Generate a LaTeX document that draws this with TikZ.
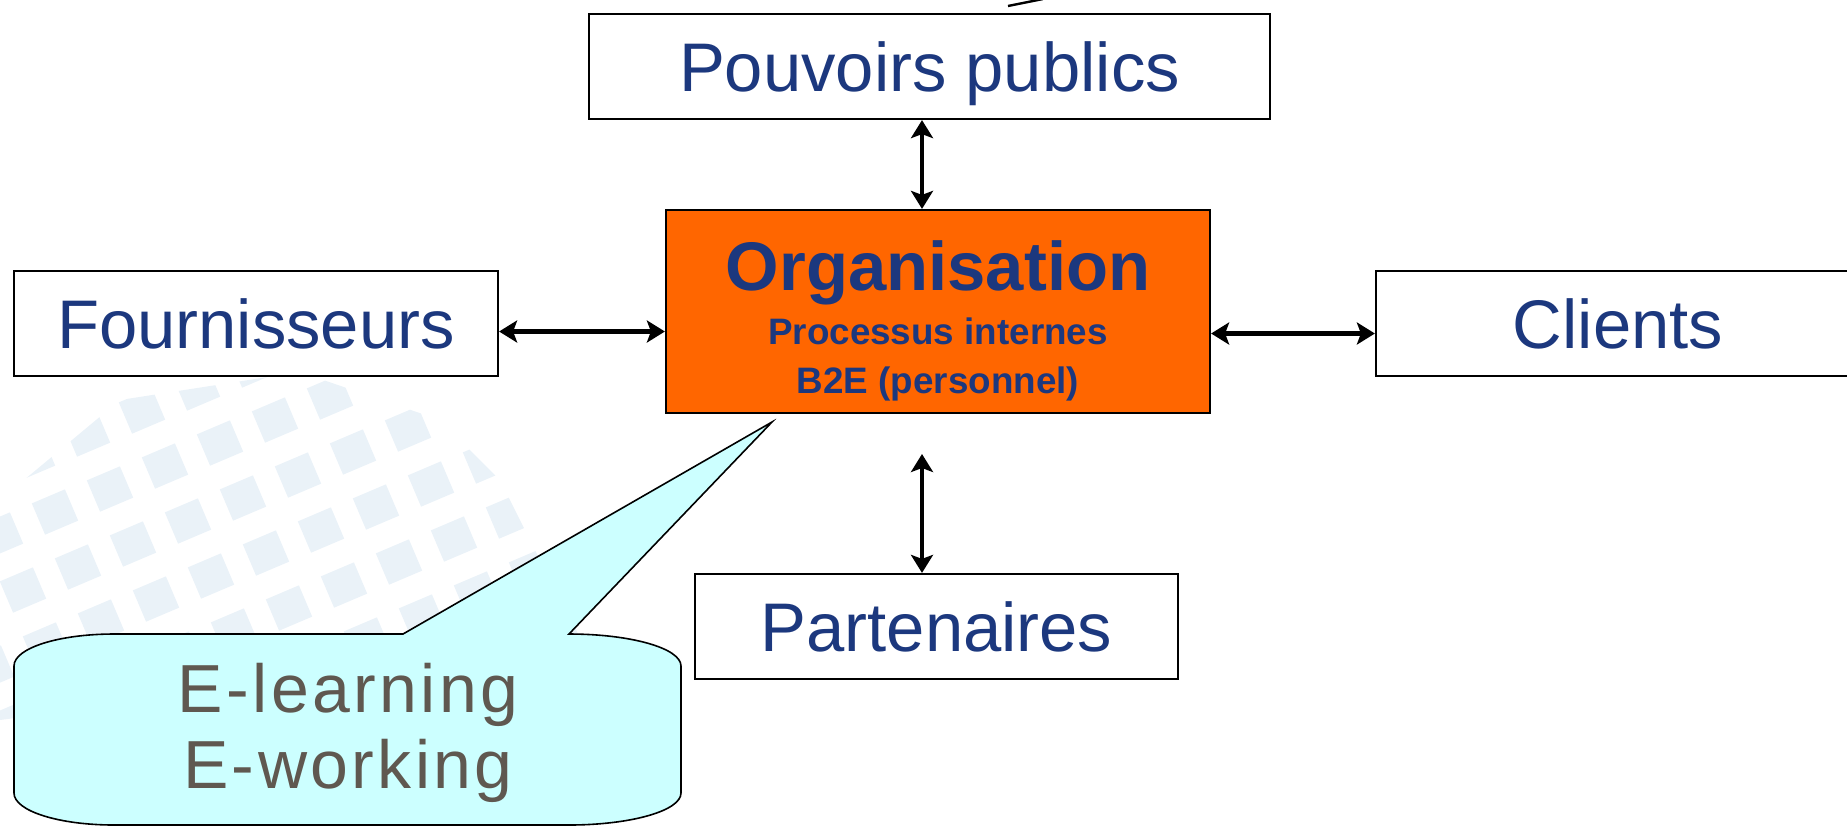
\documentclass[tikz,border=0pt]{standalone}
\usepackage{fontspec}
\setmainfont{Liberation Sans}
\usepackage{xcolor}
\usetikzlibrary{arrows.meta}

\definecolor{txtblue}{RGB}{28,56,126}
\definecolor{orgorange}{RGB}{255,102,0}
\definecolor{bubble}{RGB}{204,255,255}
\definecolor{bubbletxt}{RGB}{95,88,80}
\definecolor{tile}{RGB}{234,242,248}

\tikzset{
  box/.style={draw=black, line width=1.1pt, fill=white, text=txtblue, inner sep=0pt,
    minimum height=52.5pt, text height=24.6pt, text depth=0pt,
    font=\fontsize{34.4}{40}\selectfont},
  link/.style={line width=2.2pt, {Stealth[length=9pt,width=11pt,inset=2pt]}-{Stealth[length=9pt,width=11pt,inset=2pt]}},
  orgtxt/.style={anchor=base, text=txtblue, inner sep=0pt, font=\bfseries\fontsize{18.4}{22}\selectfont},
  calltxt/.style={anchor=base, text=bubbletxt, inner sep=0pt,
    font=\addfontfeatures{LetterSpace=5}\fontsize{34}{40}\selectfont}
}

\begin{document}
\begin{tikzpicture}[x=0.5pt,y=-0.5pt]
\useasboundingbox (0,0) rectangle (1847,827);

% faint tiles in the background
\begin{scope}
\clip (0,500) -- (120,400) -- (300,372) -- (440,420) -- (500,480) -- (560,600) -- (600,640) -- (0,720) -- cycle;
\foreach \i in {-8,...,6}
  \foreach \j in {-5,...,4}
    \fill[tile, shift={({321+55*\i-23*\j},{530-23*\i-55*\j})}, rotate=23] (-18,-17) rectangle (18,17);
\end{scope}

% small stroke cut by the top edge
\draw[line width=1.2pt] (1008,6) -- (1043,-1);

\node[box, minimum width=340.5pt] (pp) at (929.5,66.5) {Pouvoirs publics};
\node[draw=black, line width=1.1pt, fill=orgorange, minimum width=272pt, minimum height=101.5pt] (org) at (938,311.5) {};
\node[orgtxt, font=\bfseries\fontsize{34.4}{40}\selectfont] (orgtitle) at (938,290) {Organisation};
\node[orgtxt] (orgproc) at (938,344) {Processus internes};
\node[orgtxt] (orgb2e) at (938,393) {B2E (personnel)};
\node[box, minimum width=242pt] (four) at (256,323.5) {Fournisseurs};
\node[box, minimum width=242pt] (cli) at (1618,323.5) {Clients};
\node[box, minimum width=241.5pt] (part) at (936.5,626.5) {Partenaires};

\coordinate (gap) at (922,454);
\draw[link] (pp.south -| gap) -- (org.north -| gap);
\draw[link] (gap) -- (gap |- part.north);
\draw[link] ([yshift=-4pt]four.east) -- ([yshift=-4pt]four.east -| org.west);
\draw[link] ([yshift=-11pt]org.east) -- ([yshift=-11pt]org.east -| cli.west);

% callout
\draw[fill=bubble, line width=0.8pt] (114,634) -- (403,634) -- (772,422) -- (569,634)
  .. controls (630,634) and (681,648) .. (681,666) -- (681,793)
  .. controls (681,811) and (630,825) .. (569,825) -- (114,825)
  .. controls (59,825) and (14,811) .. (14,793) -- (14,666)
  .. controls (14,648) and (59,634) .. (114,634) -- cycle;
\node[calltxt] (elearn) at (348,712) {E-learning};
\node[calltxt] (ework) at (348,788) {E-working};
\end{tikzpicture}
\end{document}
